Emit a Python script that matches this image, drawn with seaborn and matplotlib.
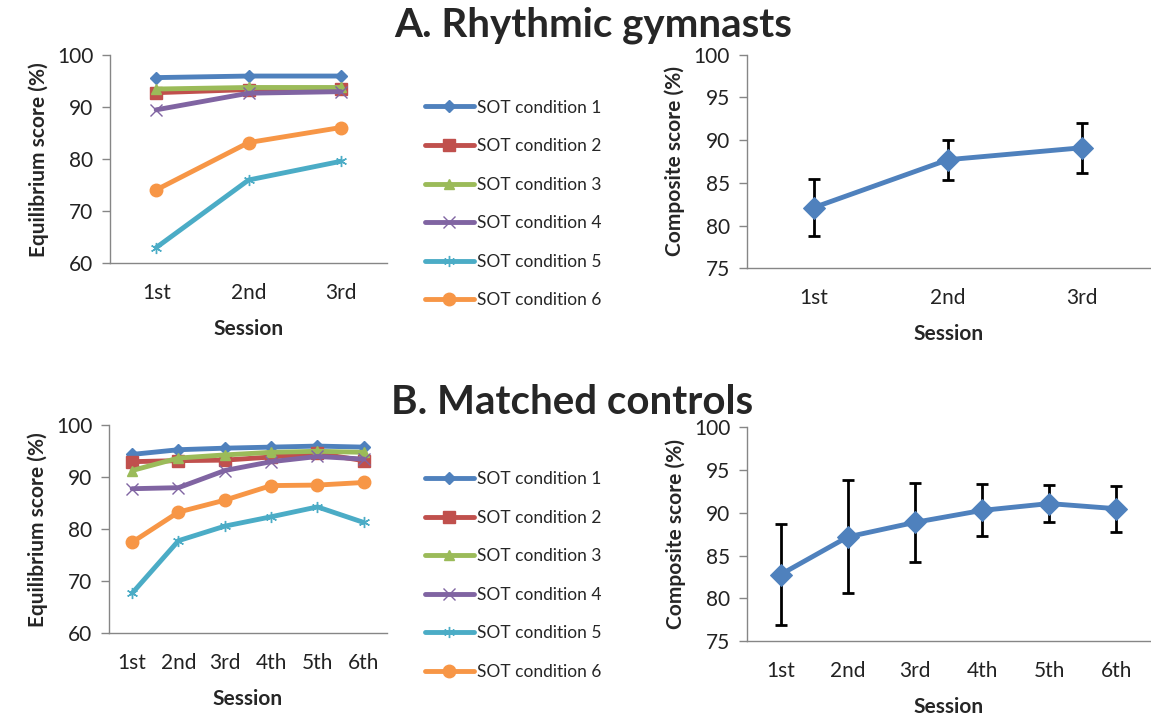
import numpy as np
import pandas as pd
import seaborn as sns
from matplotlib import pyplot as plt

# ---- data ----
sessions_a = ["1st", "2nd", "3rd"]
sessions_b = ["1st", "2nd", "3rd", "4th", "5th", "6th"]
conditions = ["SOT condition 1", "SOT condition 2", "SOT condition 3",
              "SOT condition 4", "SOT condition 5", "SOT condition 6"]

# A. Rhythmic gymnasts, equilibrium score per SOT condition
gym_c1 = [95.7, 96.0, 96.0]
gym_c2 = [92.8, 93.4, 93.6]
gym_c3 = [93.5, 93.8, 93.8]
gym_c4 = [89.5, 92.7, 93.0]
gym_c5 = [63.0, 76.0, 79.6]
gym_c6 = [74.1, 83.2, 86.1]

# B. Matched controls, equilibrium score per SOT condition
ctl_c1 = [94.4, 95.3, 95.6, 95.8, 96.0, 95.8]
ctl_c2 = [93.0, 93.2, 93.3, 93.9, 94.6, 93.2]
ctl_c3 = [91.3, 93.7, 94.3, 94.8, 95.0, 94.8]
ctl_c4 = [87.8, 88.0, 91.3, 93.0, 94.0, 93.5]
ctl_c5 = [67.7, 77.8, 80.6, 82.4, 84.3, 81.3]
ctl_c6 = [77.5, 83.3, 85.6, 88.4, 88.5, 89.0]

# composite score mean and error
gym_comp = [82.1, 87.7, 89.1]
gym_comp_err = [3.3, 2.35, 2.9]
ctl_comp = [82.8, 87.2, 88.9, 90.3, 91.1, 90.5]
ctl_comp_err = [5.9, 6.6, 4.65, 3.05, 2.15, 2.7]

palette = ["#4F81BD", "#C0504D", "#9BBB59", "#8064A2", "#4BACC6", "#F79646"]
markers = ["D", "s", "^", "x", (6, 2, 0), "o"]
marker_sizes = [11, 15, 15, 14, 15, 17]
AX_GRAY = "#868686"

sns.set_style("white")
plt.rcParams["font.family"] = ["Lato", "DejaVu Sans"]


def long_table(sessions, series):
    rows = []
    for cond, vals in zip(conditions, series):
        for s, v in zip(sessions, vals):
            rows.append({"Session": s, "Score": v, "Condition": cond})
    return pd.DataFrame(rows)


def excel_axes(ax, n, ylim, yticks, ylabel):
    ax.set_xlim(-0.5, n - 0.5)
    ax.set_ylim(*ylim)
    ax.set_yticks(yticks)
    ax.set_xticks(range(n))
    ax.set_xticks(np.arange(n + 1) - 0.5, minor=True)
    ax.tick_params(axis="x", which="major", length=0, pad=14, labelsize=15)
    ax.tick_params(axis="x", which="minor", length=6, color=AX_GRAY, width=1)
    ax.tick_params(axis="y", length=6, color=AX_GRAY, width=1, pad=6, labelsize=15, direction="out")
    ax.tick_params(axis="y", left=True)
    for side in ["top", "right"]:
        ax.spines[side].set_visible(False)
    for side in ["left", "bottom"]:
        ax.spines[side].set_color(AX_GRAY)
        ax.spines[side].set_linewidth(1)
    ax.set_xlabel("Session", fontsize=15, fontweight="bold", labelpad=12)
    ax.set_ylabel(ylabel, fontsize=15, fontweight="bold", labelpad=6)
    ax.tick_params(labelcolor="#222222")


def condition_panel(ax, sessions, series, legend_anchor):
    df = long_table(sessions, series)
    for i, cond in enumerate(conditions):
        sub = df[df["Condition"] == cond]
        sns.lineplot(data=sub, x="Session", y="Score", ax=ax, color=palette[i],
                     marker=markers[i], markersize=marker_sizes[i], linewidth=3.5,
                     markeredgecolor=palette[i], markeredgewidth=2 if i in (3, 4) else 0.5,
                     label=cond, sort=False)
    excel_axes(ax, len(sessions), (60, 100), [60, 70, 80, 90, 100], "Equilibrium score (%)")
    handles, labels = ax.get_legend_handles_labels()
    for h, m in zip(handles, [6, 9, 7, 8, 8, 9]):
        h.set_markersize(m)
        h.set_markeredgewidth(1)
    ax.legend(handles, labels, loc="upper left", bbox_to_anchor=legend_anchor,
              bbox_transform=fig.transFigure, frameon=False, fontsize=12.5,
              labelspacing=1.3, handlelength=2.8, handletextpad=0.2, borderpad=0)


def composite_panel(ax, sessions, means, errs):
    df = pd.DataFrame({"Session": sessions, "Score": means})
    ax.errorbar(range(len(sessions)), means, yerr=errs, fmt="none", ecolor="black",
                elinewidth=2, capsize=4.5, capthick=2, zorder=1)
    sns.lineplot(data=df, x="Session", y="Score", ax=ax, color="#4F81BD", marker="D",
                 markersize=11, linewidth=3.5, markeredgecolor="#4F81BD", sort=False, zorder=3)
    excel_axes(ax, len(sessions), (75, 100), [75, 80, 85, 90, 95, 100], "Composite score (%)")


fig = plt.figure(figsize=(11.51, 7.27), dpi=100)

ax_a1 = fig.add_axes([0.0956, 0.638, 0.2407, 0.286])
ax_a2 = fig.add_axes([0.6487, 0.631, 0.350, 0.294])
ax_b1 = fig.add_axes([0.0947, 0.129, 0.2415, 0.286])
ax_b2 = fig.add_axes([0.6490, 0.118, 0.350, 0.294])

condition_panel(ax_a1, sessions_a, [gym_c1, gym_c2, gym_c3, gym_c4, gym_c5, gym_c6], (0.3617, 0.875))
composite_panel(ax_a2, sessions_a, gym_comp, gym_comp_err)
condition_panel(ax_b1, sessions_b, [ctl_c1, ctl_c2, ctl_c3, ctl_c4, ctl_c5, ctl_c6], (0.3617, 0.364))
composite_panel(ax_b2, sessions_b, ctl_comp, ctl_comp_err)

fig.text(0.515, 0.965, "A. Rhythmic gymnasts", ha="center", va="center",
         fontsize=29, fontweight="bold")
fig.text(0.497, 0.447, "B. Matched controls", ha="center", va="center",
         fontsize=29, fontweight="bold")

fig.savefig("out.png", dpi=100, facecolor="white")
